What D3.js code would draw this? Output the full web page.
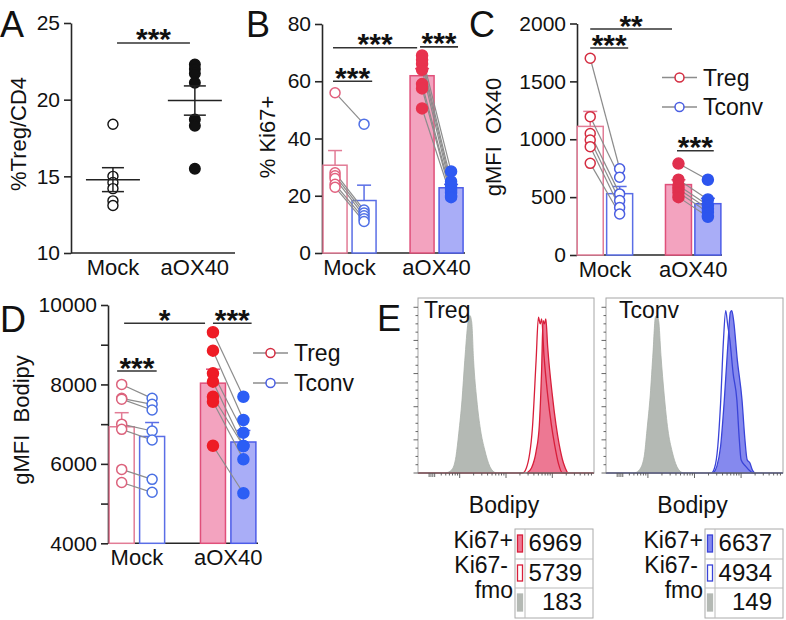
<!DOCTYPE html>
<html><head><meta charset="utf-8">
<script src="https://cdn.jsdelivr.net/npm/d3@7"></script>
<style>
html,body{margin:0;padding:0;background:#fff;}
svg{display:block;}
</style></head><body>
<svg id="chart" width="786" height="620"></svg>
<script>
// ---------------- DATA ----------------
const groups = ["Mock", "aOX40"];
const seriesNames = ["Treg", "Tconv"];
// Panel A: %Treg/CD4
const aTicks = [10, 15, 20, 25];
const aMock = [18.4, 15.0, 14.6, 14.2, 13.4, 13.1];
const aOX40 = [22.3, 22.0, 21.7, 21.1, 18.7, 18.3, 15.5];
// Panel B: % Ki67+
const bTicks = [0, 20, 40, 60, 80];
const bMockTreg = [56, 28, 27, 26, 24, 23];
const bMockTconv = [45, 15, 14, 13, 12, 11];
const bOXTreg = [69, 67.5, 66, 64, 59, 57.5, 50.5];
const bOXTconv = [28.5, 25, 23.5, 22, 21, 20, 19.5];
// Panel C: gMFI OX40
const cTicks = [0, 500, 1000, 1500, 2000];
const cMockTreg = [1700, 1195, 1050, 993, 936, 792];
const cMockTconv = [745, 672, 528, 470, 411, 354];
const cOXTreg = [790, 650, 600, 570, 540, 500];
const cOXTconv = [650, 480, 430, 400, 370, 330];
// Panel D: gMFI Bodipy
const dTicks = [4000, 5000, 6000, 7000, 8000, 9000, 10000];
const dTickLabels = [4000, 6000, 8000, 10000];
const dMockTreg = [8000, 7650, 7630, 7000, 6870, 5860, 5530];
const dMockTconv = [7650, 7500, 7356, 6827, 6600, 5611, 5284];
const dOXTreg = [9313, 8850, 8280, 8070, 7690, 7565, 6457];
const dOXTconv = [7690, 7104, 6785, 6450, 6450, 6115, 5260];
// Panel E: Bodipy histograms  [log-decade position, % of max count]
const eTregFmo = [[0.60,0],[0.73,2],[0.82,10],[0.88,24],[0.95,44],[1.01,68],[1.08,91],[1.12,95],[1.16,91],[1.20,68],[1.27,44],[1.35,26],[1.44,14],[1.55,4],[1.68,0]];
const eTregKi67pos = [[2.35,0],[2.45,3],[2.55,13],[2.62,29],[2.67,63],[2.70,92],[2.73,90],[2.76,93],[2.80,76],[2.90,47],[2.98,29],[3.05,17],[3.14,6],[3.23,0]];
const eTregKi67neg = [[0,0],[2.26,0],[2.34,3],[2.47,27],[2.55,68],[2.60,94],[2.64,90],[2.67,93],[2.72,71],[2.80,47],[2.88,29],[2.95,17],[3.03,6],[3.12,0],[3.8,0]];
const eTconvFmo = [[0.62,0],[0.72,2],[0.82,10],[0.88,26],[0.95,47],[1.01,73],[1.06,94],[1.09,95],[1.13,92],[1.18,71],[1.25,47],[1.33,26],[1.42,13],[1.52,4],[1.65,0]];
const eTconvKi67pos = [[2.30,0],[2.38,4],[2.46,16],[2.54,44],[2.62,79],[2.67,97],[2.70,98],[2.74,92],[2.82,68],[2.92,44],[2.98,21],[3.03,8],[3.09,6],[3.14,2],[3.19,0]];
const eTconvKi67neg = [[0,0],[2.26,0],[2.33,3],[2.40,16],[2.46,42],[2.52,79],[2.57,98],[2.61,90],[2.66,80],[2.73,60],[2.81,44],[2.86,21],[2.90,8],[3.00,4],[3.10,1],[3.16,0],[3.8,0]];
const tableRows = ["Ki67+", "Ki67-", "fmo"];
const eTregMFI = [6969, 5739, 183];
const eTconvMFI = [6637, 4934, 149];

// ---------------- HELPERS ----------------
const FONT = '"Liberation Sans", Arial, Helvetica, sans-serif';
const AX = "#262626";
const svg = d3.select("#chart").attr("font-family", FONT);
const mean = a => d3.mean(a);
const sem = a => d3.deviation(a) / Math.sqrt(a.length);

function yAxis(g, y, x0, ticks, labels) {
  const ax = d3.axisLeft(y).tickValues(ticks).tickSize(7).tickSizeOuter(0).tickPadding(4)
    .tickFormat(d => labels.includes(d) ? d : "");
  const a = g.append("g").attr("transform", `translate(${x0},0)`).call(ax)
    .attr("font-family", FONT).attr("font-size", 21);
  a.select(".domain").attr("stroke", AX).attr("stroke-width", 1.6);
  a.selectAll(".tick line").attr("stroke", AX).attr("stroke-width", 1.6);
  a.selectAll(".tick text").attr("fill", "#111");
  return a;
}
function hline(g, x1, x2, yy, color, w) {
  g.append("line").attr("x1", x1).attr("x2", x2).attr("y1", yy).attr("y2", yy)
    .attr("stroke", color).attr("stroke-width", w);
}
function sig(g, xA, xB, yy, label) {
  hline(g, xA, xB, yy, "#333", 1.6);
  g.append("text").attr("x", (xA + xB) / 2).attr("y", yy + 6.5).attr("text-anchor", "middle")
    .attr("font-size", 30).attr("font-weight", "bold").attr("fill", "#111").text(label);
}
function letter(txt, x, yb) {
  svg.append("text").attr("x", x).attr("y", yb).attr("font-size", 36).attr("fill", "#111").text(txt);
}
function yTitle(txt, x, yc) {
  svg.append("text").attr("transform", `translate(${x},${yc}) rotate(-90)`)
    .attr("text-anchor", "middle").attr("font-size", 22).attr("fill", "#111")
    .style("white-space", "pre").text(txt);
}

// ---------------- PANEL A ----------------
(function () {
  const g = svg.append("g");
  const y = d3.scaleLinear().domain([10, 25]).range([253, 23]);
  const x = d3.scaleLinear().domain([-0.512, 1.49]).range([71, 235]);
  yAxis(g, y, 71, aTicks, aTicks);
  hline(g, x(-0.512), x(1.49), y(10), AX, 1.6);
  groups.forEach((name, i) => g.append("text").attr("x", x(i)).attr("y", 275)
    .attr("text-anchor", "middle").attr("font-size", 22).attr("fill", "#111").text(name));
  [aMock, aOX40].forEach((arr, i) => {
    const cx = x(i), m = mean(arr), s = sem(arr);
    g.selectAll(null).data(arr).enter().append("circle")
      .attr("cx", cx).attr("cy", d => y(d)).attr("r", i === 0 ? 5 : 5.3)
      .attr("fill", i === 0 ? "#fff" : "#111").attr("stroke", "#111").attr("stroke-width", 1.4);
    hline(g, cx - 27, cx + 27, y(m), "#222", 1.5);
    hline(g, cx - 11, cx + 11, y(m + s), "#222", 1.5);
    hline(g, cx - 11, cx + 11, y(m - s), "#222", 1.5);
    g.append("line").attr("x1", cx).attr("x2", cx).attr("y1", y(m - s)).attr("y2", y(m + s))
      .attr("stroke", "#222").attr("stroke-width", 1.5);
  });
  sig(g, x(0.05), x(0.94), y(23.7), "***");
})();

// ---------------- BAR PANELS ----------------
function barPanel(cfg) {
  const g = svg.append("g");
  const y = d3.scaleLinear().domain(cfg.domain).range([cfg.yBot, cfg.yTop]);
  const x = d3.scaleLinear().domain([-0.45, 4.48]).range([cfg.x0, cfg.x1]);
  yAxis(g, y, cfg.x0, cfg.ticks, cfg.labels);
  hline(g, cfg.x0, cfg.x1, cfg.yBot, AX, 1.6);
  groups.forEach((name, i) => g.append("text").attr("x", x(i * 3 + 0.5)).attr("y", cfg.yBot + 22)
    .attr("text-anchor", "middle").attr("font-size", 22).attr("fill", "#111").text(name));
  cfg.data.forEach((pair, gi) => {
    pair.forEach((arr, si) => {
      const st = cfg.styles[gi][si];
      const cx = x(gi * 3 + si), m = mean(arr), s = sem(arr);
      g.append("line").attr("x1", cx).attr("x2", cx).attr("y1", y(m)).attr("y2", y(m + s))
        .attr("stroke", st.bar).attr("stroke-width", 1.5);
      hline(g, cx - 7, cx + 7, y(m + s), st.bar, 1.5);
      g.append("rect").attr("x", cx - cfg.bw / 2).attr("y", y(m)).attr("width", cfg.bw)
        .attr("height", cfg.yBot - y(m)).attr("fill", st.fill).attr("stroke", st.bar).attr("stroke-width", 1.5);
    });
    const [t, c] = pair;
    g.selectAll(null).data(t).enter().append("line")
      .attr("x1", x(gi * 3)).attr("y1", d => y(d))
      .attr("x2", x(gi * 3 + 1)).attr("y2", (d, i) => y(c[i]))
      .attr("stroke", "#8c8c8c").attr("stroke-width", 1.2);
    pair.forEach((arr, si) => {
      const st = cfg.styles[gi][si];
      g.selectAll(null).data(arr).enter().append("circle")
        .attr("cx", x(gi * 3 + si)).attr("cy", d => y(d)).attr("r", st.open ? 5 : 5.5)
        .attr("fill", st.open ? "#fff" : st.pt).attr("stroke", st.pt).attr("stroke-width", 1.5);
    });
  });
  cfg.sigs.forEach(s => sig(g, x(s[0]), x(s[1]), y(s[2]), s[3]));
  if (cfg.legend) {
    cfg.legend.rows.forEach((col, i) => {
      const ly = cfg.legend.y[i], lx = cfg.legend.x;
      hline(g, lx, lx + 35, ly, "#8c8c8c", 1.5);
      g.append("circle").attr("cx", lx + 17.5).attr("cy", ly).attr("r", 4.5)
        .attr("fill", "#fff").attr("stroke", col).attr("stroke-width", 1.5);
      g.append("text").attr("x", lx + 41).attr("y", ly + 8).attr("font-size", 23)
        .attr("fill", "#111").text(seriesNames[i]);
    });
  }
}

barPanel({
  x0: 322, x1: 465, yTop: 24, yBot: 253, domain: [0, 80], ticks: bTicks, labels: bTicks, bw: 24,
  data: [[bMockTreg, bMockTconv], [bOXTreg, bOXTconv]],
  styles: [[{ fill: "#fff", bar: "#e27c96", pt: "#e2607e", open: true }, { fill: "#fff", bar: "#5a6ee6", pt: "#5070e6", open: true }],
           [{ fill: "#f3a3bf", bar: "#e0507a", pt: "#e8334f" }, { fill: "#a9adf7", bar: "#4c5ce8", pt: "#2f5af2" }]],
  sigs: [[-0.07, 2.83, 71.7, "***"], [2.93, 4.24, 72, "***"], [-0.07, 1.28, 60, "***"]]
});
barPanel({
  x0: 577, x1: 722, yTop: 23.5, yBot: 255, domain: [0, 2000], ticks: cTicks, labels: cTicks, bw: 26,
  data: [[cMockTreg, cMockTconv], [cOXTreg, cOXTconv]],
  styles: [[{ fill: "#fff", bar: "#e27c96", pt: "#d42c40", open: true }, { fill: "#fff", bar: "#5a6ee6", pt: "#4a5ee2", open: true }],
           [{ fill: "#f3a3bf", bar: "#e0507a", pt: "#e0304e" }, { fill: "#a9adf7", bar: "#4c5ce8", pt: "#2d55ee" }]],
  sigs: [[0, 2.78, 1952, "**"], [0, 1.29, 1788, "***"], [2.95, 4.2, 901, "***"]],
  legend: { x: 662, y: [77.5, 107], rows: ["#d42c40", "#4a5ee2"] }
});
barPanel({
  x0: 108, x1: 258, yTop: 305, yBot: 543.3, domain: [4000, 10000], ticks: dTicks, labels: dTickLabels, bw: 25,
  data: [[dMockTreg, dMockTconv], [dOXTreg, dOXTconv]],
  styles: [[{ fill: "#fff", bar: "#e27c96", pt: "#dc627c", open: true }, { fill: "#fff", bar: "#5a6ee6", pt: "#4a70e4", open: true }],
           [{ fill: "#f3a3bf", bar: "#e0507a", pt: "#ee1c25" }, { fill: "#a9adf7", bar: "#4c5ce8", pt: "#2c5ef5" }]],
  sigs: [[0.08, 2.74, 9539, "*"], [3.0, 4.27, 9539, "***"], [-0.15, 1.15, 8338, "***"]],
  legend: { x: 253, y: [353, 383], rows: ["#d42c40", "#4a5ee2"] }
});

// ---------------- PANEL E ----------------
function histPanel(cfg) {
  const g = svg.append("g");
  const x = d3.scaleLinear().domain([0, 3.8]).range([cfg.x0, cfg.x1]);
  const y = d3.scaleLinear().domain([0, 105]).range([473, 299]);
  const area = d3.area().x(d => x(d[0])).y0(y(0)).y1(d => y(d[1])).curve(d3.curveMonotoneX);
  const line = d3.line().x(d => x(d[0])).y(d => y(d[1])).curve(d3.curveMonotoneX);
  g.append("path").attr("d", area(cfg.fmo)).attr("fill", "#b4b9b4").attr("stroke", "#aab0aa").attr("stroke-width", 0.8);
  g.append("path").attr("d", area(cfg.pos)).attr("fill", cfg.fill).attr("stroke", cfg.stroke).attr("stroke-width", 1.3);
  g.append("path").attr("d", line(cfg.neg)).attr("fill", "none").attr("stroke", cfg.stroke).attr("stroke-width", 1.3);
  g.append("rect").attr("x", cfg.x0).attr("y", 298).attr("width", cfg.x1 - cfg.x0).attr("height", 175)
    .attr("fill", "none").attr("stroke", "#a6a6a6").attr("stroke-width", 1);
  hline(g, cfg.x0, cfg.x1, 473, "#555", 1);
  d3.range(0, 105, 5).forEach(v => {
    const len = v % 20 === 0 ? 4.5 : 2.5;
    hline(g, cfg.x0 - len, cfg.x0, y(v), "#555", 0.9);
  });
  const majors = [0.9, 1.9, 2.9];
  const minors = [];
  [-0.1, 0.9, 1.9, 2.9].forEach(d => d3.range(2, 10).forEach(k => {
    const u = d + Math.log10(k); if (u > 0.45 && u < 3.78) minors.push(u);
  }));
  const zeroTicks = [0.24, 0.28, 0.32, 0.36];
  const tick = (u, len) => g.append("line").attr("x1", x(u)).attr("x2", x(u)).attr("y1", 473).attr("y2", 473 + len)
    .attr("stroke", "#555").attr("stroke-width", 0.9);
  majors.forEach(u => tick(u, 5)); minors.forEach(u => tick(u, 2.5)); zeroTicks.forEach(u => tick(u, 4));
  g.append("text").attr("x", cfg.lx).attr("y", 318).attr("font-size", 23).attr("fill", "#111").text(cfg.label);
  g.append("text").attr("x", (cfg.x0 + cfg.x1) / 2 - 2).attr("y", 513).attr("text-anchor", "middle")
    .attr("font-size", 23).attr("fill", "#111").text("Bodipy");
  const rowsY = [529, 559, 588, 618];
  const t = cfg.table;
  g.append("rect").attr("x", t.x0).attr("y", rowsY[0]).attr("width", t.x1 - t.x0).attr("height", rowsY[3] - rowsY[0])
    .attr("fill", "none").attr("stroke", "#aaa").attr("stroke-width", 1);
  [rowsY[1], rowsY[2]].forEach(v => hline(g, t.x0, t.x1, v, "#bbb", 1));
  g.append("line").attr("x1", t.x0 + 10).attr("x2", t.x0 + 10).attr("y1", rowsY[0]).attr("y2", rowsY[3])
    .attr("stroke", "#bbb").attr("stroke-width", 1);
  const sw = [{ f: cfg.fill, s: cfg.stroke }, { f: "#fff", s: cfg.stroke }, { f: "#b4b9b4", s: "#b4b9b4" }];
  tableRows.forEach((r, i) => {
    g.append("rect").attr("x", t.x0 + 2.5).attr("y", rowsY[i] + 6).attr("width", 5).attr("height", rowsY[i + 1] - rowsY[i] - 13)
      .attr("fill", sw[i].f).attr("stroke", sw[i].s).attr("stroke-width", 1.3);
    g.append("text").attr("x", t.x1 - 11).attr("y", rowsY[i] + 22).attr("text-anchor", "end")
      .attr("font-size", 24).attr("fill", "#111").text(cfg.mfi[i]);
    g.append("text").attr("x", t.x0 - 2 - (i === 1 ? 5 : 0)).attr("y", 548 + i * 25).attr("text-anchor", "end")
      .attr("font-size", 23).attr("fill", "#111").text(r);
  });
}
histPanel({ x0: 418, x1: 594, lx: 424, label: "Treg", fmo: eTregFmo, pos: eTregKi67pos, neg: eTregKi67neg,
  fill: "rgba(234,96,128,0.85)", stroke: "#d81e3a", table: { x0: 515, x1: 593 }, mfi: eTregMFI });
histPanel({ x0: 606, x1: 783, lx: 619, label: "Tconv", fmo: eTconvFmo, pos: eTconvKi67pos, neg: eTconvKi67neg,
  fill: "rgba(120,124,236,0.9)", stroke: "#3a44d8", table: { x0: 705, x1: 783 }, mfi: eTconvMFI });

// ---------------- LETTERS & TITLES ----------------
letter("A", 0, 36.5); letter("B", 246, 36.5); letter("C", 469, 36.5); letter("D", 0, 331.5); letter("E", 377, 330.5);
yTitle("%Treg/CD4", 25.5, 134);
yTitle("% Ki67+", 275, 137);
yTitle("gMFI  OX40", 501, 137);
yTitle("gMFI  Bodipy", 28.5, 420);
</script>
</body></html>
